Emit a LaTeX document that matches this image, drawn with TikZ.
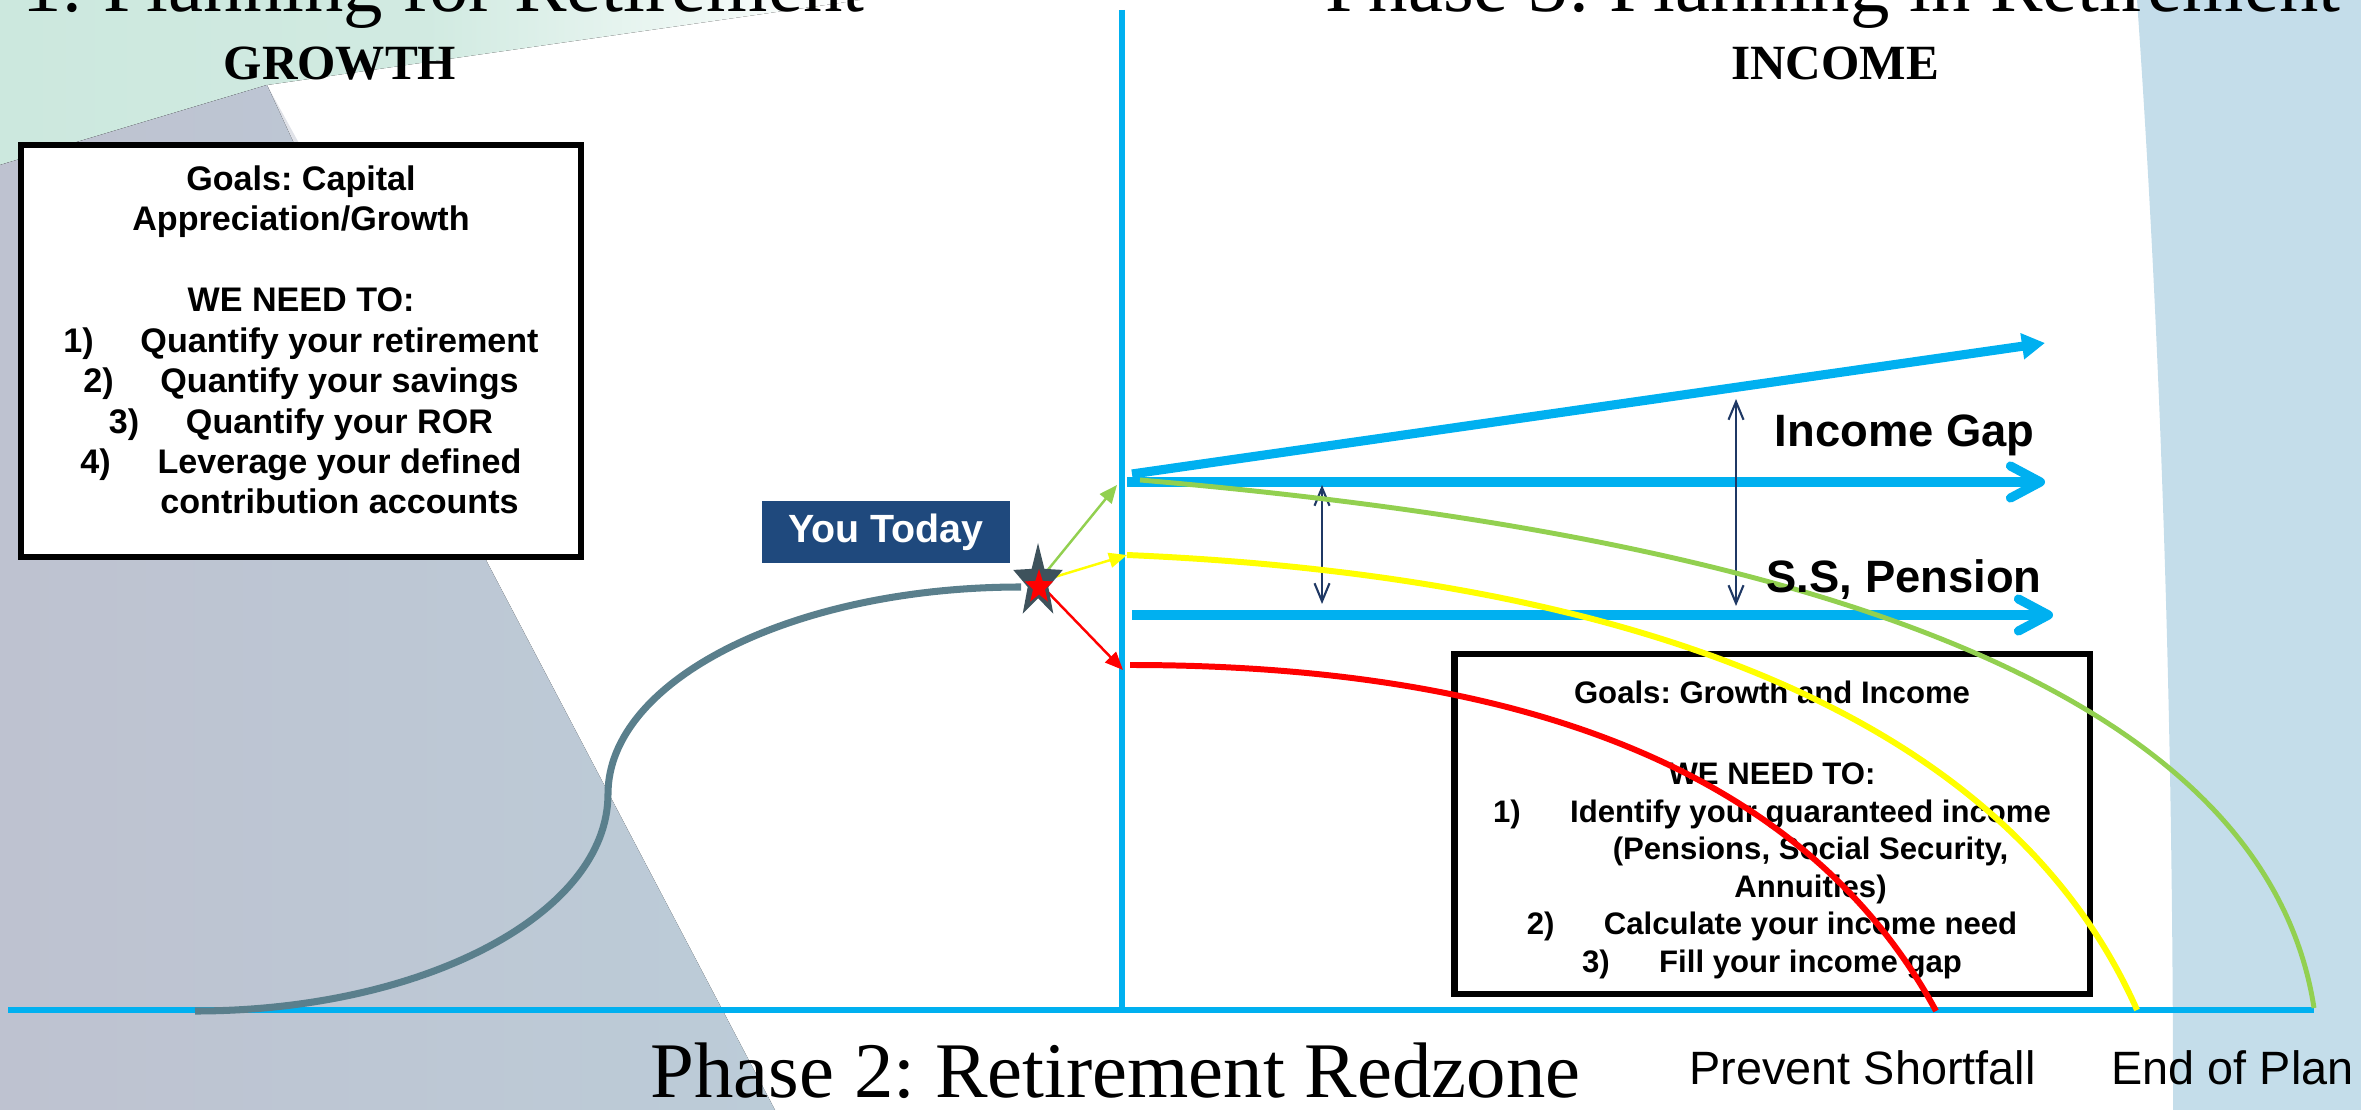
\documentclass[tikz,border=0pt]{standalone}
\usepackage{fontspec}
\setmainfont{Liberation Sans}
\newfontfamily\phasefont{Liberation Serif}
\usetikzlibrary{arrows.meta,shapes.geometric}

\definecolor{axisblue}{HTML}{00B0F0}
\definecolor{gapnavy}{HTML}{1F3864}
\definecolor{todayblue}{HTML}{1F497D}
\definecolor{pathgray}{HTML}{5A7F8C}
\definecolor{starslate}{HTML}{3E525C}
\definecolor{plangreen}{HTML}{92D050}
\definecolor{planyellow}{HTML}{FFFF00}
\definecolor{planred}{HTML}{FF0000}
\definecolor{mintbg}{HTML}{CCE8DE}
\definecolor{wedgebg}{HTML}{D3D6DE}
\definecolor{slatebgl}{HTML}{BEC2D0}
\definecolor{slatebgr}{HTML}{BCCCD8}
\definecolor{stripbg}{HTML}{C4DDEA}

\newcommand{\itemno}[1]{\makebox[0.77cm][l]{#1}}
\newcommand{\contline}{\hspace*{0.77cm}}

\tikzset{
  axisline/.style={axisblue,line width=1.9pt},
  goalbox/.style={draw=black,line width=1.8pt,fill=white,inner sep=0pt},
  goaltext/.style={align=center,inner sep=0pt},
  phase/.style={font=\phasefont\fontsize{22.4}{26}\selectfont,inner sep=0pt},
  focus/.style={font=\phasefont\bfseries\fontsize{14}{16}\selectfont,inner sep=0pt},
  gaplabel/.style={font=\bfseries\fontsize{12.9}{15}\selectfont,inner sep=0pt},
  endlabel/.style={font=\fontsize{13.3}{15}\selectfont,inner sep=0pt},
  incomearrow/.style={axisblue,line width=2.6pt},
  gaparrow/.style={gapnavy,line width=0.6pt,{Straight Barb[length=0.18cm,width=0.15cm]}-{Straight Barb[length=0.18cm,width=0.15cm]}},
  pick/.style={line width=0.7pt,-{Triangle[length=0.18cm,width=0.15cm]}},
  outcome/.style={line width=1.7pt},
}

\begin{document}
\frenchspacing
\begin{tikzpicture}[x=0.01cm,y=-0.01cm]
\useasboundingbox (0,0) rectangle (2361,1110);
% background
\fill[left color=mintbg,right color=white,middle color=mintbg!90] (0,0) -- (860,0) -- (267,85) -- (0,165) -- cycle;
\fill[wedgebg!70] (267,85) -- (140,125) -- (300,145) -- cycle;
\fill[left color=slatebgl,right color=slatebgr] (0,165) -- (267,85) -- (487,562) -- (775,1110) -- (0,1110) -- cycle;
\fill[stripbg] (2137,0) .. controls (2160,330) and (2173,700) .. (2173,1110) -- (2361,1110) -- (2361,0) -- cycle;

% axes
\coordinate (ytop) at (1122,10);
\coordinate (ybot) at (1122,1010);
\coordinate (xleft) at (8,1010);
\coordinate (xright) at (2314,1010);
\draw[axisline] (ytop) -- (ybot);
\draw[axisline] (xleft) -- (xright);

% titles
\node (phaseone) [phase,anchor=base east] at (865,12) {Phase 1: Planning for Retirement};
\node (phasethree) [phase,anchor=base east] at (2341,12) {Phase 3: Planning in Retirement};
\node (phasetwo) [phase,anchor=base west] at (650,1097) {Phase 2: Retirement Redzone};
\node (growth) [focus,anchor=base] at (340,80) {GROWTH};
\node (income) [focus,anchor=base] at (1835,80) {INCOME};

% goal boxes
\node (growbox) [goalbox,minimum width=5.6cm,minimum height=4.12cm] at (301,351) {};
\node (growtext) [goaltext,font=\bfseries\fontsize{9.7}{11.5}\selectfont] at (301,340)
  {Goals: Capital\\ Appreciation/Growth\\[11.5pt]
   WE NEED TO:\\ \itemno{1)}Quantify your retirement\\ \itemno{2)}Quantify your savings\\
   \itemno{3)}Quantify your ROR\\ \itemno{4)}Leverage your defined\\ \contline contribution accounts};
\node (incomebox) [goalbox,minimum width=6.35cm,minimum height=3.4cm] at (1772,824) {};
\node (incometext) [goaltext,font=\bfseries\fontsize{8.85}{10.67}\selectfont] at (1772,830)
  {Goals: Growth and Income\\[12.4pt]
   WE NEED TO:\\ \itemno{1)}Identify your guaranteed income\\ \contline(Pensions, Social Security,\\
   \contline Annuities)\\ \itemno{2)}Calculate your income need\\ \itemno{3)}Fill your income gap};

% growth phase
\coordinate (growstart) at (195,1011);
\coordinate (growmid) at (608,794);
\coordinate (growend) at (1021,587);
\draw[pathgray,line width=2pt] (growstart) .. controls (423,1011) and (608,914) .. (growmid)
  .. controls (608,680) and (793,587) .. (growend);

% income lines
\coordinate (riseleft) at (1132,474);
\coordinate (risetip) at (2045,343);
\coordinate (needleft) at (1127,482);
\coordinate (needtip) at (2045,482);
\coordinate (ssleft) at (1132,615);
\coordinate (sstip) at (2053,615);
\draw[incomearrow,-{Triangle[length=0.23cm,width=0.25cm]}] (riseleft) -- (risetip);
\draw[incomearrow,-{Straight Barb[length=0.3cm,width=0.32cm,round]}] (needleft) -- (needtip);
\draw[incomearrow,-{Straight Barb[length=0.3cm,width=0.32cm,round]}] (ssleft) -- (sstip);
\foreach \gx/\gt/\gb [count=\i] in {1322/485/604,1736/399/606}{
  \coordinate (gaptop\i) at (\gx,\gt);
  \coordinate (gapbot\i) at (\gx,\gb);
  \draw[gaparrow] (gaptop\i) -- (gapbot\i);
}
\node (gap) [gaplabel,anchor=base west] at (1774,447) {Income Gap};

% outcomes
\coordinate (greentip) at (1117,485);
\coordinate (yellowtip) at (1127,555);
\coordinate (redtip) at (1123,670);
\coordinate (greenstart) at (1140,480);
\coordinate (yellowstart) at (1127,555);
\coordinate (redstart) at (1130,665);
\coordinate (planend) at (2314,1008);
\coordinate (yellowend) at (2137,1010);
\coordinate (shortfall) at (1936,1011);
\draw[plangreen,line width=1.4pt] (greenstart) .. controls (1720,530) and (2260,660) .. (planend);
\draw[planyellow,outcome] (yellowstart) .. controls (1600,575) and (2000,700) .. (yellowend);
\draw[planred,outcome] (redstart) .. controls (1500,665) and (1800,760) .. (shortfall);

% you today
\node (youtoday) [fill=todayblue,text=white,font=\bfseries\fontsize{11.2}{13}\selectfont,
  minimum width=2.48cm,minimum height=0.62cm,inner sep=0pt] at (886,532) {You Today};
\coordinate (starmid) at (1038,582);
\draw[pick,plangreen] (starmid) -- (greentip);
\draw[pick,planyellow] (starmid) -- (yellowtip);
\draw[pick,planred] (starmid) -- (redtip);
\begin{scope}[shift={(1038,582)}]
\node (today) [star,star points=5,star point ratio=2.4,fill=starslate,minimum size=0.52cm,
  inner sep=0pt,yscale=1.5,transform shape] at (0,0) {};
\end{scope}
\begin{scope}[shift={(1039,587)}]
\node (todaycore) [star,star points=5,star point ratio=2.4,fill=planred,minimum size=0.3cm,
  inner sep=0pt,yscale=1.2,transform shape] at (0,0) {};
\end{scope}

% labels
\node (pension) [gaplabel,anchor=base west] at (1766,593) {S.S, Pension};
\node (prevent) [endlabel,anchor=base west] at (1689,1084) {Prevent Shortfall};
\node (endplan) [endlabel,anchor=base west] at (2111,1084) {End of Plan};
\end{tikzpicture}
\end{document}
